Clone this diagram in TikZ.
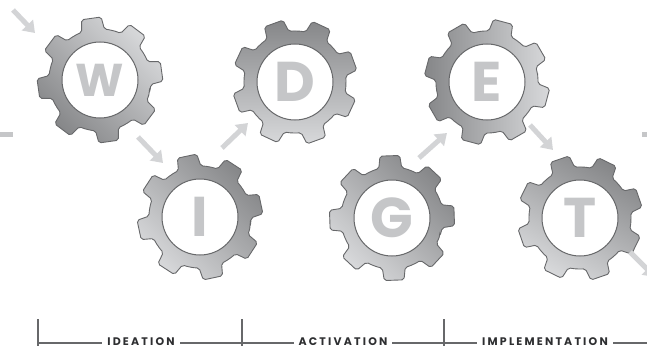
\documentclass[tikz,border=0pt]{standalone}
\usepackage{fontspec}
\setmainfont{Poppins}
\newfontfamily\phasefont[LetterSpace=20]{Poppins}
\usetikzlibrary{calc}
\usetikzlibrary{arrows.meta}

\definecolor{geardark}{HTML}{858688}
\definecolor{gearlight}{HTML}{D8D9DB}
\definecolor{gearline}{HTML}{67686A}
\definecolor{lettergray}{HTML}{C5C6C8}
\definecolor{arrowgray}{HTML}{D3D4D6}
\definecolor{phasetext}{HTML}{2E2F31}

% centre, angle of the first tooth, shading angle
\newcommand{\gearbody}[3]{%
\draw[draw=gearline, line width=0.9pt, rounded corners=2pt, top color=geardark, bottom color=gearlight, shading angle=#3, shift={#1}]
 (#2-22.5:51) \foreach \a in {0,45,...,315} {
 arc[start angle=\a+#2-22.5, end angle=\a+#2-13, radius=51] -- (\a+#2-9:63) -- (\a+#2+9:63) -- (\a+#2+13:51)
 arc[start angle=\a+#2+13, end angle=\a+#2+22.5, radius=51]} -- cycle;}

\begin{document}
\begin{tikzpicture}[x=1pt, y=1pt,
 hole/.style={circle, draw=gearline, line width=1pt, fill=white, minimum size=76pt, inner sep=0pt, text=lettergray, font=\fontsize{56}{56}\selectfont\bfseries},
 flow/.style={draw=arrowgray, line width=5pt, -{Triangle[width=15pt,length=11pt]}},
 rule/.style={draw=gearline, line width=1.5pt},
 phase/.style={fill=white, inner xsep=5pt, inner ysep=1pt, text=phasetext, font=\fontsize{11}{12}\phasefont\bfseries}]
\useasboundingbox (0,0) rectangle (647,-350);

% gears
\foreach \n/\x/\y/\r/\s in {D/295/82/20/0, I/200/217/12/-45, G/392/218/2/-45, E/487/82/30/90, T/580/218/19/-30} {
 \gearbody{(\x,-\y)}{\r}{\s}
 \node[hole] (\n) at (\x,-\y) {\n};
}
\gearbody{(100,-80)}{8}{135}
\node[hole, font=\fontsize{46}{46}\selectfont\bfseries] (W) at (100,-80) {W};

% arrows
\foreach \n/\xa/\ya/\xb/\yb in {in/13/10/35/33, wi/138/137/163/163, id/222/148/248/123, ge/419/158/447/133, et/530/125/553/150, out/630/252/655/277} {
 \coordinate (\n0) at (\xa,-\ya);
 \coordinate (\n1) at (\xb,-\yb);
 \draw[flow] (\n0) -- (\n1);
}

% side marks
\fill[lettergray] (0,-132) rectangle (13,-137);
\fill[lettergray] (642,-132) rectangle (650,-137);

% phases
\coordinate (start) at (38,-343);
\coordinate (finish) at (647,-343);
\draw[rule] (start) -- (finish);
\foreach \x in {38,242,444} \draw[rule] (\x,-319) -- (\x,-346);
\node[phase] (ideation) at (141,-342) {IDEATION};
\node[phase] (activation) at (343,-342) {ACTIVATION};
\node[phase] (implementation) at (545,-342) {IMPLEMENTATION};
\end{tikzpicture}
\end{document}
